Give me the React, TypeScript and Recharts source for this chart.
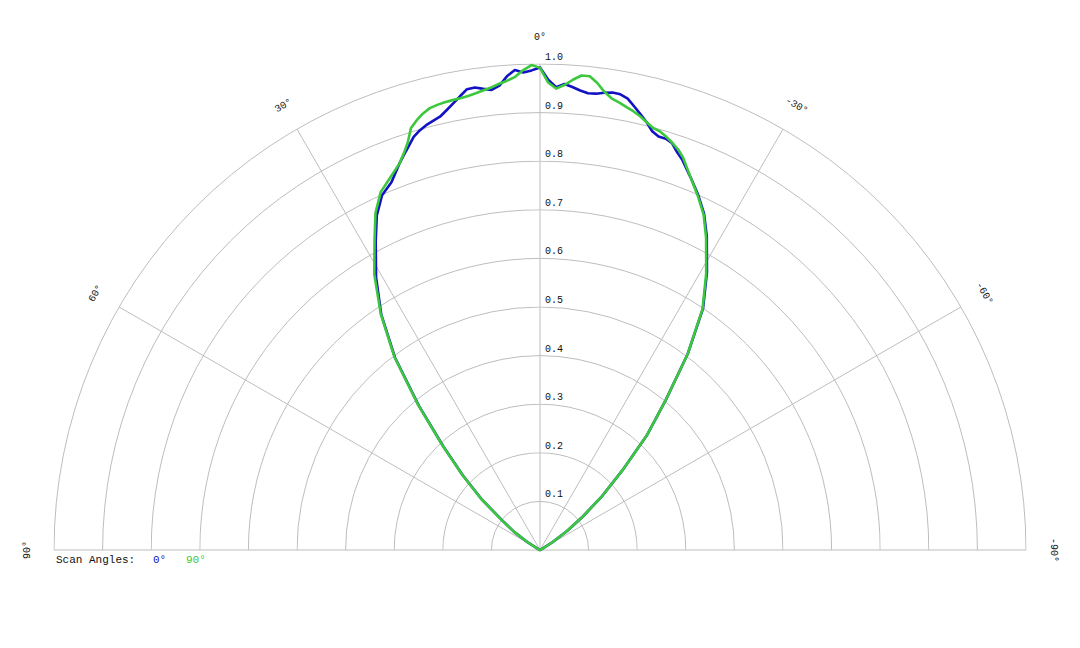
import React from 'react';
import {
  RadarChart,
  Radar,
  PolarGrid,
  PolarAngleAxis,
  PolarRadiusAxis,
  Legend,
} from 'recharts';

// scan angle (deg), positive to the left of the boresight
const angles = [
  90, 85, 80, 75, 70, 66, 62, 58, 55, 52, 49, 46, 43, 40, 37, 34, 31, 28, 26, 24, 22,
  20, 19, 18, 17, 16, 15, 14, 13, 12, 11, 10, 9, 8, 7, 6, 5, 4, 3, 2, 1,
  0,
  -1, -2, -3, -4, -5, -6, -7, -8, -9, -10, -11, -12, -13, -14, -15, -16, -17, -18, -19, -20,
  -22, -24, -26, -28, -31, -34, -37, -40, -43, -46, -49, -52, -55, -58, -62, -66, -70, -75, -80, -85, -90,
];

// normalised gain, scan angle 0°
const scan0 = [
  0, 0, 0, 0, 0, 0, 0.004, 0.03, 0.065, 0.098, 0.159, 0.22, 0.292, 0.388, 0.496, 0.584, 0.655, 0.72, 0.766, 0.799, 0.816,
  0.846, 0.86, 0.874, 0.889, 0.898, 0.905, 0.91, 0.915, 0.925, 0.936, 0.948, 0.96, 0.961, 0.956, 0.952, 0.959, 0.977, 0.989, 0.983, 0.987,
  0.993,
  0.968, 0.953, 0.96, 0.955, 0.949, 0.945, 0.946, 0.95, 0.953, 0.952, 0.946, 0.933, 0.92, 0.907, 0.892, 0.885, 0.885, 0.88, 0.866, 0.855,
  0.827, 0.8, 0.77, 0.731, 0.667, 0.6, 0.505, 0.402, 0.322, 0.235, 0.17, 0.112, 0.068, 0.03, 0.004, 0, 0, 0, 0, 0, 0,
];

// normalised gain, scan angle 90°
const scan90 = [
  0, 0, 0, 0, 0, 0, 0.004, 0.03, 0.065, 0.1, 0.16, 0.222, 0.294, 0.39, 0.498, 0.586, 0.662, 0.725, 0.772, 0.806, 0.825,
  0.846, 0.862, 0.881, 0.908, 0.92, 0.93, 0.937, 0.94, 0.942, 0.943, 0.944, 0.946, 0.949, 0.953, 0.957, 0.963, 0.968, 0.975, 0.988, 0.998,
  0.992,
  0.962, 0.95, 0.958, 0.97, 0.98, 0.98, 0.968, 0.952, 0.941, 0.935, 0.929, 0.923, 0.916, 0.907, 0.899, 0.896, 0.889, 0.881, 0.872, 0.86,
  0.827, 0.798, 0.768, 0.728, 0.664, 0.598, 0.505, 0.402, 0.322, 0.235, 0.17, 0.112, 0.068, 0.03, 0.004, 0, 0, 0, 0, 0, 0,
];

const radiusTicks = [0.1, 0.2, 0.3, 0.4, 0.5, 0.6, 0.7, 0.8, 0.9, 1.0];
const angleTicks = [-90, -60, -30, 0, 30, 60, 90];

const seriesNames = ['0°', '90°'];
const seriesColors = ['#1212c4', '#3cc83c'];

const data = angles.map((angle, i) => ({ angle, scan0: scan0[i], scan90: scan90[i] }));

const FONT = '"Liberation Mono", "DejaVu Sans Mono", monospace';

function AngleTick(props: any) {
  const { x, y, payload } = props;
  const v = payload.value;
  return (
    <text
      x={x}
      y={y}
      transform={`rotate(${-v} ${x} ${y})`}
      textAnchor="middle"
      dominantBaseline="central"
      fontFamily={FONT}
      fontSize={10}
      fill="#111"
    >
      {`${v}°`}
    </text>
  );
}

function RadiusTick(props: any) {
  const { x, y, payload } = props;
  return (
    <text x={x + 5} y={y - 4} textAnchor="start" fontFamily={FONT} fontSize={10} fill="#111">
      {Number(payload.value).toFixed(1)}
    </text>
  );
}

function ScanLegend(props: any) {
  const payload = props.payload || [];
  return (
    <div style={{ position: 'relative', fontFamily: FONT, fontSize: 11, color: '#111', height: 14 }}>
      <span style={{ position: 'absolute', left: 0, whiteSpace: 'pre' }}>Scan Angles:</span>
      {payload.map((p: any, i: number) => (
        <span
          key={p.value}
          style={{ position: 'absolute', left: 97 + i * 33, color: p.color || seriesColors[i], whiteSpace: 'pre' }}
        >
          {p.value}
        </span>
      ))}
    </div>
  );
}

export default function App() {
  return (
    <div style={{ width: 1080, height: 648, background: '#fff' }}>
      <style>{`
        body { margin: 0; }
        .recharts-polar-grid-concentric * { clip-path: inset(0 0 50% 0); }
      `}</style>
      <RadarChart
        width={1080}
        height={648}
        data={data}
        cx={540}
        cy={550}
        innerRadius={0}
        outerRadius={486}
        startAngle={0}
        endAngle={180}
        margin={{ top: 0, right: 0, bottom: 0, left: 0 }}
      >
        <PolarGrid gridType="circle" stroke="#bdbdbd" strokeWidth={1} />
        <PolarAngleAxis
          dataKey="angle"
          type="number"
          domain={[-90, 90]}
          ticks={angleTicks}
          tickCount={7}
          axisLine={false}
          tickLine={false}
          tickSize={27}
          tick={<AngleTick />}
        />
        <PolarRadiusAxis
          angle={90}
          domain={[0, 1]}
          ticks={radiusTicks}
          tickCount={11}
          axisLine={false}
          tickLine={false}
          tick={<RadiusTick />}
        />
        <Radar
          dataKey="scan0"
          name={seriesNames[0]}
          stroke={seriesColors[0]}
          strokeWidth={2.6}
          strokeLinejoin="round"
          fill="none"
          fillOpacity={0}
          dot={false}
          legendType="line"
          isAnimationActive={false}
        />
        <Radar
          dataKey="scan90"
          name={seriesNames[1]}
          stroke={seriesColors[1]}
          strokeWidth={2.6}
          strokeLinejoin="round"
          fill="none"
          fillOpacity={0}
          dot={false}
          legendType="line"
          isAnimationActive={false}
        />
        <Legend
          content={<ScanLegend />}
          wrapperStyle={{ position: 'absolute', left: 56, top: 554, width: 300, height: 14 }}
        />
      </RadarChart>
    </div>
  );
}
